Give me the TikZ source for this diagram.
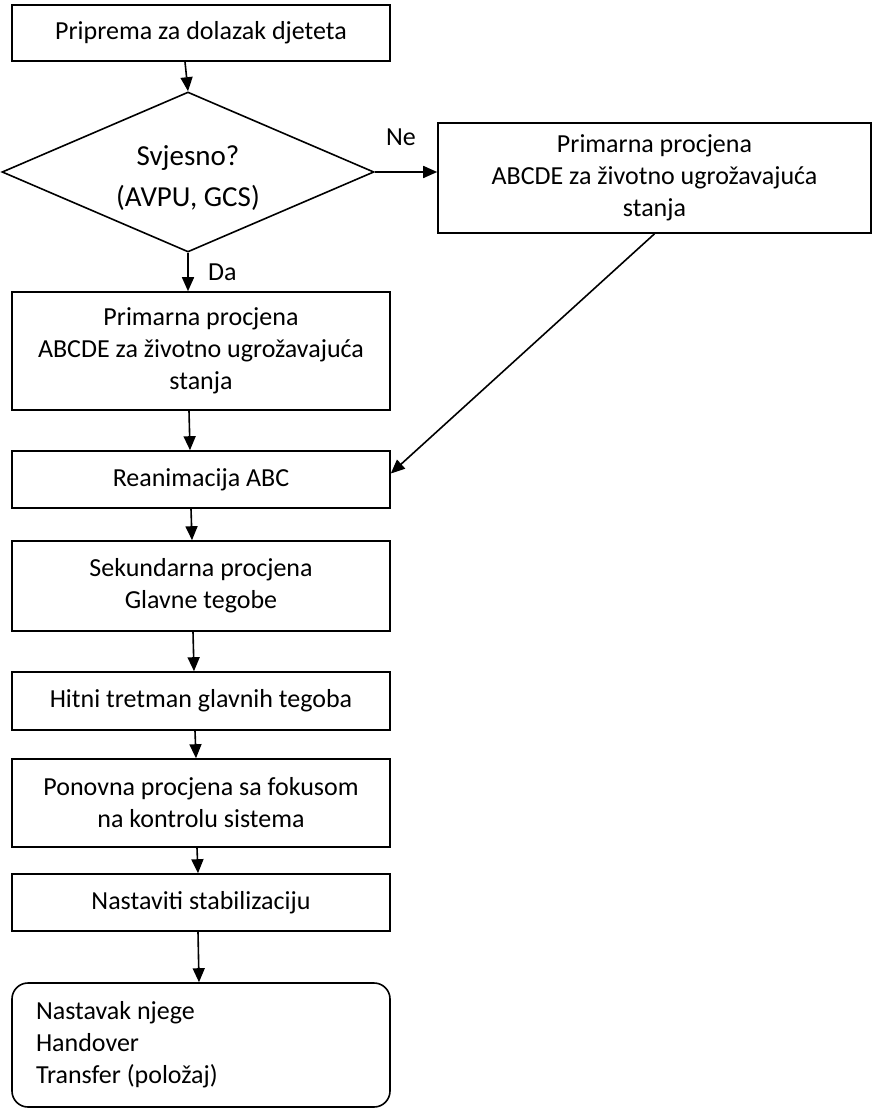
\documentclass[tikz,border=0pt]{standalone}
\usepackage{fontspec}
\setmainfont{Carlito}
\usepackage{tikz}
\usetikzlibrary{shapes.geometric,arrows.meta}

\tikzset{
    stepbox/.style={draw, line width=1.6pt, minimum width=378pt, inner sep=0pt,
        align=center, font=\fontsize{26}{32}\selectfont},
    decision/.style={draw, diamond, aspect=2.325, line width=1.6pt, minimum width=372pt,
        minimum height=160pt, inner sep=0pt},
    decisiontext/.style={align=center, inner sep=0pt, font=\fontsize{29}{41}\selectfont},
    endbox/.style={draw, rounded corners=16pt, line width=1.6pt, minimum width=378pt,
        minimum height=124pt, inner sep=0pt, align=flush left, text width=330pt,
        font=\fontsize{26}{32}\selectfont},
    arr/.style={-{Triangle[length=14pt,width=12pt]}, line width=1.6pt},
    lbl/.style={font=\fontsize{26}{32}\selectfont}
}

\begin{document}
\begin{tikzpicture}[x=1pt, y=-1pt]
    \useasboundingbox (0,0) rectangle (873,1110);

    % Main column
    \node[stepbox, minimum height=56pt] (prep) at (201,33) {Priprema za dolazak djeteta};
    \node[decision] (svj) at (188,172) {};
    \node[decisiontext] (svjtxt) at ([yshift=-6pt]svj.center) {Svjesno?\\(AVPU, GCS)};
    \node[stepbox, minimum height=118pt] (prim) at (201,351) {Primarna procjena\\ABCDE za životno ugrožavajuća\\stanja};
    \node[stepbox, minimum height=57pt] (rean) at (201,479.5) {Reanimacija ABC};
    \node[stepbox, minimum height=90pt] (sek) at (201,586) {Sekundarna procjena\\Glavne tegobe};
    \node[stepbox, minimum height=58pt] (hitni) at (201,701) {Hitni tretman glavnih tegoba};
    \node[stepbox, minimum height=88pt] (pon) at (201,803) {Ponovna procjena sa fokusom\\na kontrolu sistema};
    \node[stepbox, minimum height=57pt] (nast) at (201,902.5) {Nastaviti stabilizaciju};
    \node[endbox] (kraj) at (201,1045) {Nastavak njege\\Handover\\Transfer (položaj)};

    % Side branch
    \node[stepbox, minimum width=433pt, minimum height=110pt] (primR) at (654.5,178) {Primarna procjena\\ABCDE za životno ugrožavajuća\\stanja};

    % Arrows
    \draw[arr] ([xshift=-16pt]prep.south) -- (svj.north);
    \draw[arr] (svj.south) -- ([xshift=-13pt]prim.north) node[lbl, pos=0.5, right=16pt] {Da};
    \draw[arr] (svj.east) -- (svj.east -| primR.west) node[lbl, pos=0.42, above=22pt] {Ne};
    \foreach \a/\b/\s/\t in {prim/rean/-12/-11, rean/sek/-10/-9, sek/hitni/-8/-7,
        hitni/pon/-6/-5, pon/nast/-4/-3, nast/kraj/-3/-2} {
        \draw[arr] ([xshift=\s pt]\a.south) -- ([xshift=\t pt]\b.north);
    }
    \draw[arr] (primR.south) -- ([yshift=6pt]rean.east);
\end{tikzpicture}
\end{document}
